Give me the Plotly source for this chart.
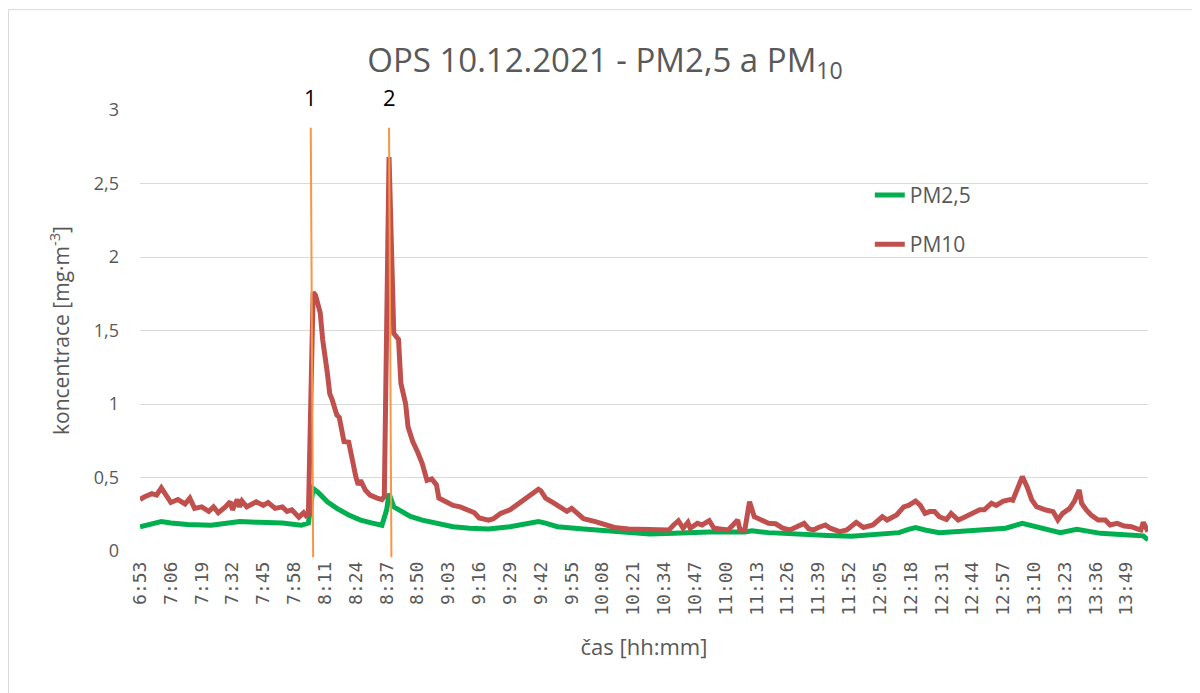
#!/usr/bin/env python3

# Libraries
import plotly.graph_objects as go

# Time axis: minutes after 6:53, labels every 13 minutes
tick_minutes = list(range(0, 417, 13))
tick_labels  = ['6:53', '7:06', '7:19', '7:32', '7:45', '7:58', '8:11', '8:24', '8:37', '8:50',
                '9:03', '9:16', '9:29', '9:42', '9:55', '10:08', '10:21', '10:34', '10:47', '11:00',
                '11:13', '11:26', '11:39', '11:52', '12:05', '12:18', '12:31', '12:44', '12:57', '13:10',
                '13:23', '13:36', '13:49']
last_minute  = 425  # 13:58

# PM10 readings (minutes after 6:53, mg/m3)
pm10_t = [0, 2, 5, 7, 9, 11, 13, 16, 19, 21,
          23, 26, 29, 31, 33, 36, 38, 39, 41, 42,
          43, 45, 49, 52, 54, 57, 60, 62, 64, 67,
          69, 70, 71, 73, 74, 76, 77, 79, 80, 81,
          83, 84, 86, 88, 89, 91, 92, 93, 95, 97,
          100, 102, 103, 105, 107, 109, 110, 112, 113, 115,
          117, 119, 121, 123, 125, 126, 129, 132, 135, 138,
          141, 143, 147, 149, 152, 156, 160, 164, 166, 168,
          169, 171, 174, 176, 178, 180, 182, 184, 187, 192,
          197, 200, 206, 211, 215, 219, 223, 225, 227, 229,
          231, 232, 235, 237, 240, 242, 245, 248, 250, 252,
          253, 255, 257, 259, 262, 265, 268, 271, 274, 277,
          280, 282, 284, 286, 289, 291, 295, 298, 302, 305,
          309, 313, 315, 319, 322, 324, 327, 329, 331, 333,
          335, 337, 340, 342, 345, 348, 351, 354, 356, 358,
          359, 361, 364, 367, 368, 372, 374, 376, 378, 382,
          385, 387, 389, 392, 394, 396, 397, 399, 401, 404,
          407, 409, 412, 415, 418, 421, 422, 423, 425]
pm10   = [0.35, 0.37, 0.39, 0.38, 0.43, 0.38, 0.33, 0.35, 0.32, 0.36,
          0.29, 0.30, 0.27, 0.30, 0.26, 0.30, 0.335, 0.28, 0.35, 0.30,
          0.34, 0.30, 0.335, 0.31, 0.33, 0.29, 0.30, 0.27, 0.28, 0.23,
          0.26, 0.24, 0.25, 1.76, 1.74, 1.62, 1.44, 1.21, 1.07, 1.03,
          0.925, 0.91, 0.745, 0.74, 0.65, 0.505, 0.45, 0.48, 0.415, 0.38,
          0.36, 0.35, 0.37, 2.68, 1.48, 1.44, 1.14, 1.0, 0.845, 0.745,
          0.675, 0.595, 0.48, 0.49, 0.45, 0.36, 0.335, 0.31, 0.30, 0.28,
          0.26, 0.225, 0.21, 0.22, 0.255, 0.28, 0.325, 0.38, 0.40, 0.42,
          0.41, 0.36, 0.33, 0.31, 0.29, 0.27, 0.29, 0.26, 0.22, 0.20,
          0.18, 0.16, 0.15, 0.147, 0.14, 0.14, 0.143, 0.177, 0.206, 0.155,
          0.195, 0.155, 0.188, 0.177, 0.206, 0.155, 0.147, 0.143, 0.177, 0.211,
          0.143, 0.143, 0.335, 0.233, 0.211, 0.188, 0.185, 0.155, 0.143, 0.165,
          0.188, 0.15, 0.143, 0.16, 0.177, 0.155, 0.132, 0.143, 0.195, 0.16,
          0.177, 0.233, 0.211, 0.245, 0.30, 0.31, 0.34, 0.31, 0.256, 0.268,
          0.268, 0.233, 0.214, 0.256, 0.211, 0.233, 0.256, 0.28, 0.28, 0.31,
          0.325, 0.31, 0.34, 0.35, 0.345, 0.506, 0.438, 0.348, 0.302, 0.279,
          0.268, 0.211, 0.256, 0.29, 0.34, 0.415, 0.325, 0.279, 0.245, 0.211,
          0.211, 0.177, 0.188, 0.17, 0.165, 0.147, 0.143, 0.195, 0.132]

# PM2,5 readings (minutes after 6:53, mg/m3)
pm25_t = [0, 4, 9, 13, 20, 30, 40, 42, 50, 60,
          68, 70, 71, 73, 75, 79, 83, 88, 93, 98,
          100, 102, 104, 105, 107, 109, 114, 119, 125, 132,
          139, 147, 156, 164, 168, 171, 176, 187, 197, 215,
          225, 240, 255, 258, 265, 280, 290, 300, 312, 320,
          324, 327, 331, 337, 345, 355, 365, 372, 379, 385,
          388, 395, 405, 415, 423, 425]
pm25   = [0.165, 0.18, 0.20, 0.19, 0.18, 0.175, 0.19, 0.20, 0.195, 0.19,
          0.175, 0.18, 0.19, 0.425, 0.40, 0.335, 0.29, 0.245, 0.21, 0.19,
          0.18, 0.175, 0.28, 0.39, 0.30, 0.28, 0.235, 0.21, 0.19, 0.165,
          0.155, 0.15, 0.165, 0.19, 0.20, 0.19, 0.165, 0.15, 0.135, 0.115,
          0.12, 0.13, 0.13, 0.137, 0.125, 0.11, 0.105, 0.10, 0.11, 0.125,
          0.147, 0.16, 0.143, 0.125, 0.132, 0.145, 0.155, 0.188, 0.16, 0.143,
          0.125, 0.147, 0.12, 0.11, 0.103, 0.075]

# Events marked on the chart
event_labels  = ['1', '2']
event_minutes = [72, 105]

# Y ticks with decimal comma
y_ticks       = [0, 0.5, 1, 1.5, 2, 2.5, 3]
y_tick_labels = ['0', '0,5', '1', '1,5', '2', '2,5', '3']

grey = '#595959'

# Create figure
fig = go.Figure()

fig.add_trace(go.Scatter(x = pm25_t, y = pm25, mode = 'lines', name = 'PM2,5',
                         legendgroup = 'a', line = dict(color = '#00B050', width = 5)))
fig.add_trace(go.Scatter(x = pm10_t, y = pm10, mode = 'lines', name = 'PM10',
                         legendgroup = 'b', line = dict(color = '#C0504D', width = 5)))

# Event lines and numbers
for label, minute in zip(event_labels, event_minutes):
    fig.add_shape(type = 'line', xref = 'x', yref = 'paper',
                  x0 = minute, x1 = minute + 1, y0 = 0.96, y1 = -0.014,
                  line = dict(color = '#F79646', width = 2))
    fig.add_annotation(x = minute, xref = 'x', y = 1.0295, yref = 'paper',
                       yanchor = 'middle', text = label, showarrow = False,
                       font = dict(size = 22, color = 'black'))

# Outer chart frame
fig.add_shape(type = 'rect', xref = 'paper', yref = 'paper',
              x0 = -0.1305, x1 = 1.1, y0 = -0.4, y1 = 1.2275,
              line = dict(color = '#D9D9D9', width = 1))

# Update layout
fig.update_layout(
    title = dict(
        text = 'OPS 10.12.2021 - PM2,5 a PM<sub>10</sub>',
        x = 0.4975, xanchor = 'center',
        y = 0.924, yanchor = 'middle',
        font = dict(size = 33, color = grey)
    ),

    xaxis = dict(
        range     = [0, last_minute],
        tickmode  = 'array',
        tickvals  = tick_minutes,
        ticktext  = tick_labels,
        tickangle = -90,
        tickfont  = dict(family = 'DejaVu Sans Mono', size = 18, color = grey),
        showgrid  = False,
        zeroline  = False,
        showline  = False,
        ticklabelstandoff = 6,
        title     = dict(text = 'čas [hh:mm]', font = dict(size = 22, color = grey), standoff = 24)
    ),

    yaxis = dict(
        range     = [0, 3],
        tickmode  = 'array',
        tickvals  = y_ticks,
        ticktext  = y_tick_labels,
        tickfont  = dict(size = 18, color = grey),
        showgrid  = True,
        gridcolor = '#D9D9D9',
        gridwidth = 1,
        zeroline  = False,
        showline  = False,
        ticks     = '',
        ticklabelstandoff = 20,
        title     = dict(text = 'koncentrace [mg·m<sup>-3</sup>]', font = dict(size = 21, color = grey), standoff = 18)
    ),

    legend = dict(
        x = 0.724, xanchor = 'left',
        y = 0.853, yanchor = 'top',
        traceorder     = 'grouped',
        tracegroupgap  = 19,
        font           = dict(size = 21, color = grey),
        bgcolor        = 'rgba(0, 0, 0, 0)'
    ),

    plot_bgcolor  = 'white',
    paper_bgcolor = 'white',
    font = dict(family = 'Open Sans', size = 16, color = grey),
    width  = 1200,
    height = 693,
    margin = dict(l = 132, r = 60, t = 102, b = 150),
    showlegend = True,
    template = None
)

fig.write_html('out.html')
